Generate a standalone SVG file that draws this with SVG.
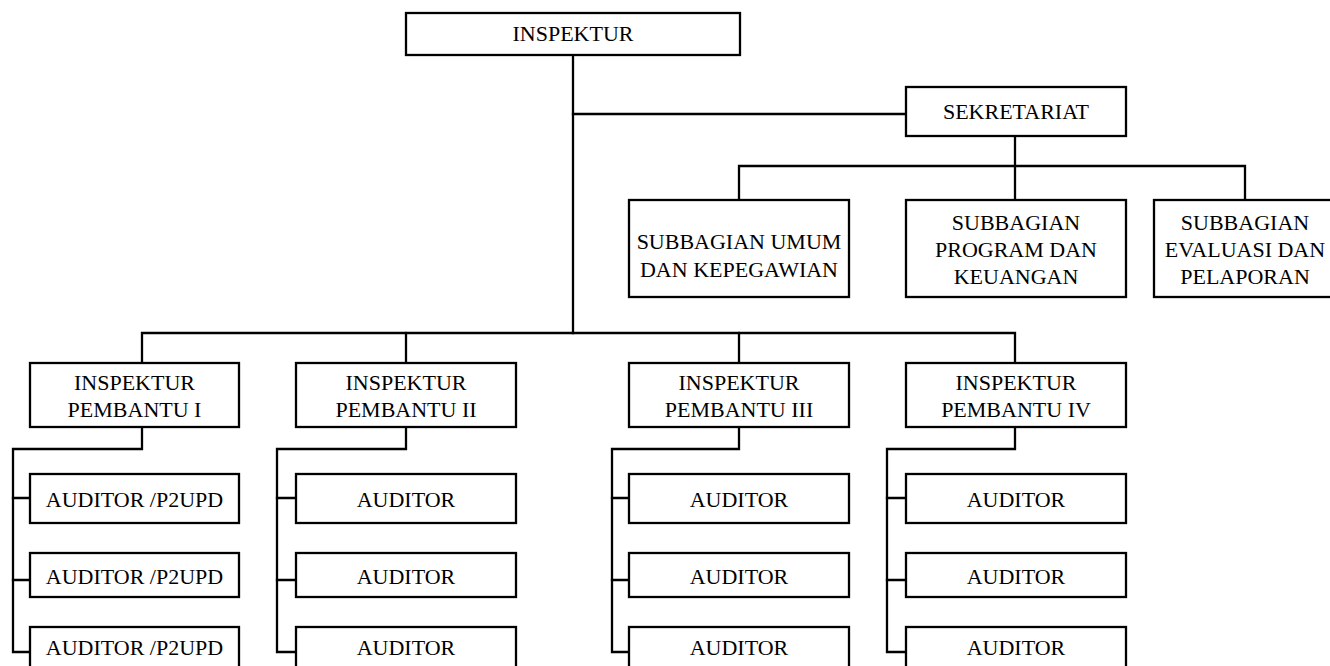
<svg xmlns="http://www.w3.org/2000/svg" width="1330" height="666" viewBox="0 0 1330 666">
  <style>
    .box { fill: #ffffff; stroke: #000000; stroke-width: 2.3; }
    .wire { fill: none; stroke: #000000; stroke-width: 2.3; stroke-linecap: square; }
    text { font-family: "Liberation Serif", "Times New Roman", serif; font-size: 22px; fill: #000000; text-anchor: middle; }
  </style>
  <rect width="1330" height="666" fill="#ffffff"/>

  <!-- connectors -->
  <g id="connectors" class="wire">
    <path d="M573 55 V333"/>
    <path d="M573 114 H906"/>
    <path d="M1015 136 V200"/>
    <path d="M739 200 V166 H1245 V200"/>
    <path d="M142 363 V333 H1015 V363"/>
    <path d="M406 333 V363"/>
    <path d="M739 333 V363"/>
    <!-- column I -->
    <path d="M142 427 V449 H13 V652 H30"/>
    <path d="M13 498 H30 M13 580 H30"/>
    <!-- column II -->
    <path d="M406 427 V449 H277 V652 H296"/>
    <path d="M277 498 H296 M277 580 H296"/>
    <!-- column III -->
    <path d="M739 427 V449 H612 V652 H629"/>
    <path d="M612 498 H629 M612 580 H629"/>
    <!-- column IV -->
    <path d="M1015 427 V449 H887 V652 H906"/>
    <path d="M887 498 H906 M887 580 H906"/>
  </g>

  <g id="inspektur">
    <rect class="box" x="406" y="13" width="334" height="42"/>
    <text x="573" y="41">INSPEKTUR</text>
  </g>

  <g id="sekretariat">
    <rect class="box" x="906" y="87" width="220" height="49"/>
    <text x="1016" y="119">SEKRETARIAT</text>
  </g>

  <g id="subbagian-umum">
    <rect class="box" x="629" y="200" width="220" height="97"/>
    <text x="739" y="249">SUBBAGIAN UMUM</text>
    <text x="739" y="277">DAN KEPEGAWIAN</text>
  </g>
  <g id="subbagian-program">
    <rect class="box" x="906" y="200" width="220" height="97"/>
    <text x="1016" y="230">SUBBAGIAN</text>
    <text x="1016" y="257">PROGRAM DAN</text>
    <text x="1016" y="284">KEUANGAN</text>
  </g>
  <g id="subbagian-evaluasi">
    <rect class="box" x="1154" y="200" width="182" height="97"/>
    <text x="1245" y="230">SUBBAGIAN</text>
    <text x="1245" y="257">EVALUASI DAN</text>
    <text x="1245" y="284">PELAPORAN</text>
  </g>

  <g id="inspektur-pembantu-1">
    <rect class="box" x="30" y="363" width="209" height="64"/>
    <text x="134.5" y="390">INSPEKTUR</text>
    <text x="134.5" y="417">PEMBANTU I</text>
  </g>
  <g id="inspektur-pembantu-2">
    <rect class="box" x="296" y="363" width="220" height="64"/>
    <text x="406" y="390">INSPEKTUR</text>
    <text x="406" y="417">PEMBANTU II</text>
  </g>
  <g id="inspektur-pembantu-3">
    <rect class="box" x="629" y="363" width="220" height="64"/>
    <text x="739" y="390">INSPEKTUR</text>
    <text x="739" y="417">PEMBANTU III</text>
  </g>
  <g id="inspektur-pembantu-4">
    <rect class="box" x="906" y="363" width="220" height="64"/>
    <text x="1016" y="390">INSPEKTUR</text>
    <text x="1016" y="417">PEMBANTU IV</text>
  </g>

  <!-- auditor units, column I -->
  <g id="auditor-1-1"><rect class="box" x="30" y="474" width="209" height="49"/><text x="134.5" y="507">AUDITOR /P2UPD</text></g>
  <g id="auditor-1-2"><rect class="box" x="30" y="553" width="209" height="44"/><text x="134.5" y="584">AUDITOR /P2UPD</text></g>
  <g id="auditor-1-3"><rect class="box" x="30" y="627" width="209" height="60"/><text x="134.5" y="655">AUDITOR /P2UPD</text></g>

  <!-- column II -->
  <g id="auditor-2-1"><rect class="box" x="296" y="474" width="220" height="49"/><text x="406" y="507">AUDITOR</text></g>
  <g id="auditor-2-2"><rect class="box" x="296" y="553" width="220" height="44"/><text x="406" y="584">AUDITOR</text></g>
  <g id="auditor-2-3"><rect class="box" x="296" y="627" width="220" height="60"/><text x="406" y="655">AUDITOR</text></g>

  <!-- column III -->
  <g id="auditor-3-1"><rect class="box" x="629" y="474" width="220" height="49"/><text x="739" y="507">AUDITOR</text></g>
  <g id="auditor-3-2"><rect class="box" x="629" y="553" width="220" height="44"/><text x="739" y="584">AUDITOR</text></g>
  <g id="auditor-3-3"><rect class="box" x="629" y="627" width="220" height="60"/><text x="739" y="655">AUDITOR</text></g>

  <!-- column IV -->
  <g id="auditor-4-1"><rect class="box" x="906" y="474" width="220" height="49"/><text x="1016" y="507">AUDITOR</text></g>
  <g id="auditor-4-2"><rect class="box" x="906" y="553" width="220" height="44"/><text x="1016" y="584">AUDITOR</text></g>
  <g id="auditor-4-3"><rect class="box" x="906" y="627" width="220" height="60"/><text x="1016" y="655">AUDITOR</text></g>
</svg>
